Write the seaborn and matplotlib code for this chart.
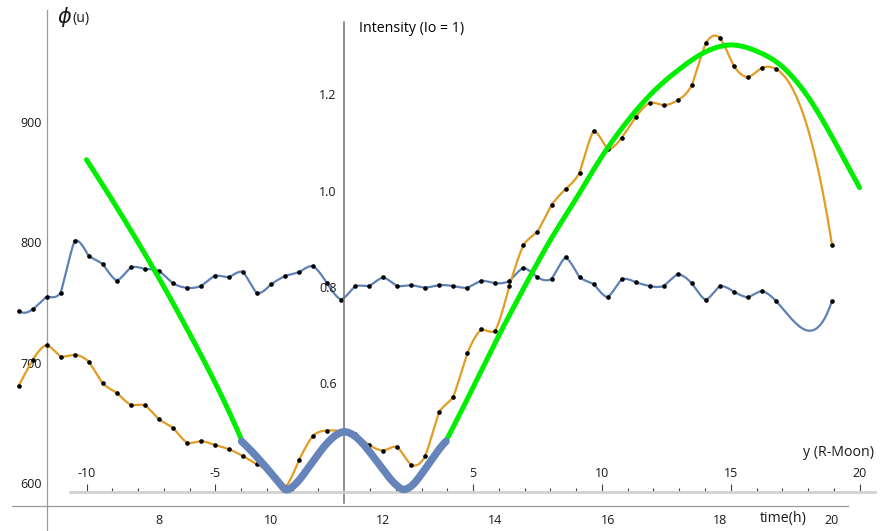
import numpy as np
import matplotlib
matplotlib.use("Agg")
import matplotlib.pyplot as plt
import seaborn as sns

# ---------------- data ----------------
# measured series, time (h) vs phi (u)
blue_t = [5.5, 5.75, 6.0, 6.25, 6.5, 6.75, 7.0, 7.25, 7.5, 7.75, 8.0, 8.25, 8.5, 8.75,
          9.0, 9.25, 9.5, 9.75, 10.0, 10.25, 10.5, 10.75, 11.0, 11.25, 11.5, 11.75,
          12.0, 12.25, 12.5, 12.75, 13.0, 13.25, 13.5, 13.75, 14.0, 14.25, 14.5, 14.75,
          15.0, 15.25, 15.5, 15.75, 16.0, 16.25, 16.5, 16.75, 17.0, 17.25, 17.5, 17.75,
          18.0, 18.25, 18.5, 18.75, 19.0, 20.0]
blue_phi = [743.2, 744.3, 754.8, 758.1, 801.4, 788.6, 782.0, 768.1, 779.3, 777.8, 776.4,
            766.0, 762.3, 763.7, 772.3, 770.9, 775.6, 757.6, 765.1, 772.0, 775.1, 780.3,
            766.0, 752.4, 763.7, 763.7, 770.9, 763.7, 764.5, 762.3, 764.5, 763.7, 762.3,
            768.1, 766.0, 767.9, 778.9, 770.9, 769.5, 787.6, 770.9, 765.4, 754.3, 769.3,
            766.8, 763.7, 763.7, 773.4, 766.0, 752.1, 763.7, 759.0, 754.3, 759.6, 751.3,
            751.3]

orange_t = [5.5, 5.75, 6.0, 6.25, 6.5, 6.75, 7.0, 7.25, 7.5, 7.75, 8.0, 8.25, 8.5, 8.75,
            9.0, 9.25, 9.5, 9.75, 10.0, 10.25, 10.5, 10.75, 11.0, 11.25, 11.5, 11.75,
            12.0, 12.25, 12.5, 12.75, 13.0, 13.25, 13.5, 13.75, 14.0, 14.25, 14.5, 14.75,
            15.0, 15.25, 15.5, 15.75, 16.0, 16.25, 16.5, 16.75, 17.0, 17.25, 17.5, 17.75,
            18.0, 18.25, 18.5, 18.75, 19.0, 20.0]
orange_phi = [680.6, 702.0, 714.7, 705.0, 706.6, 700.8, 682.8, 675.0, 664.8, 664.8, 652.9,
              646.0, 633.5, 634.9, 631.6, 628.0, 622.4, 615.4, 608.6, 596.4, 619.1, 639.3,
              643.5, 643.0, 640.5, 631.6, 626.8, 630.2, 615.0, 622.4, 659.3, 671.7, 707.8,
              727.7, 726.6, 763.7, 797.8, 808.8, 831.0, 844.3, 857.9, 892.8, 877.3, 887.0,
              904.0, 916.0, 913.9, 918.3, 930.5, 965.4, 970.1, 946.5, 937.2, 945.1, 944.1,
              797.8]

# model curves, y (R-Moon) vs intensity
green_left_y = [-10, -9, -8, -7, -6, -5, -3.98]
green_left_I = [1.064, 0.980, 0.892, 0.800, 0.702, 0.599, 0.481]
green_right_y = [3.95, 5, 6, 7, 8, 9, 10, 11, 12, 13, 14, 15, 16, 17, 18, 19, 20]
green_right_I = [0.479, 0.590, 0.698, 0.800, 0.897, 0.983, 1.071, 1.145, 1.206, 1.252,
                 1.288, 1.303, 1.290, 1.258, 1.195, 1.105, 1.006]
wave_y = [-3.98, -3.5, -3.0, -2.5, -2.3, -2.0, -1.5, -1.0, -0.5, 0.0, 0.5, 1.0, 1.5,
          2.0, 2.3, 2.5, 3.0, 3.5, 3.95]
wave_I = [0.478, 0.452, 0.422, 0.390, 0.378, 0.384, 0.415, 0.452, 0.483, 0.498, 0.485,
          0.455, 0.420, 0.388, 0.378, 0.381, 0.410, 0.448, 0.478]

phi_ticks = [600, 700, 800, 900]
time_ticks = [8, 10, 12, 14, 16, 18, 20]
int_ticks = [0.6, 0.8, 1.0, 1.2]
ymoon_ticks = [-10, -5, 5, 10, 15, 20]
ymoon_labels = ["-10", "-5", "5", "10", "15", "20"]

# ---------------- styling ----------------
C_BLUE = "#5E81B5"
C_ORANGE = "#E19C24"
C_GREEN = "#00EE00"
C_TXT = "#1a1a1a"
TICK_FS = 9
LAB_FS = 10.2

sns.set_theme(style="white")
plt.rcParams["font.family"] = ["Open Sans", "DejaVu Sans"]
plt.rcParams["axes.grid"] = False


def smooth(x, y, per=24):
    """Piecewise local cubic (4-point) curve through the points, as Mathematica draws it."""
    x = np.asarray(x, float)
    y = np.asarray(y, float)
    n = len(x)
    xs, ys = [], []
    for i in range(n - 1):
        j0 = min(max(i - 1, 0), n - 4)
        idx = list(range(j0, j0 + 4))
        xx = np.linspace(x[i], x[i + 1], per, endpoint=(i == n - 2))
        yy = np.zeros_like(xx)
        for a in idx:
            L = np.ones_like(xx)
            for b in idx:
                if b != a:
                    L *= (xx - x[b]) / (x[a] - x[b])
            yy += y[a] * L
        xs.append(xx)
        ys.append(yy)
    return np.concatenate(xs), np.concatenate(ys)


fig = plt.figure(figsize=(8.85, 5.31), dpi=100)
ax1 = fig.add_axes([0, 0, 1, 1])
ax2 = fig.add_axes([0, 0, 1, 1])
ax2.patch.set_alpha(0)
ax1.set_facecolor("white")

# ---- frame 1: time vs phi ----
ax1.set_xlim(5.1693, 20.9447)
ax1.set_ylim(560.1, 1001.4)

for t, v, c in [(blue_t, blue_phi, C_BLUE), (orange_t, orange_phi, C_ORANGE)]:
    sx, sy = smooth(t, v)
    sns.lineplot(x=sx, y=sy, ax=ax1, color=c, lw=1.6, sort=False, estimator=None, zorder=2)
for t, v in [(blue_t, blue_phi), (orange_t, orange_phi)]:
    sns.scatterplot(x=t, y=v, ax=ax1, color="black", s=11, linewidth=0, zorder=3)

for s in ["top", "right"]:
    ax1.spines[s].set_visible(False)
ax1.spines["left"].set_position(("data", 6.0))
ax1.spines["left"].set_bounds(560.1, 993)
ax1.spines["bottom"].set_position(("data", 580.9))
ax1.spines["bottom"].set_bounds(5.38, 20.29)
for s in ["left", "bottom"]:
    ax1.spines[s].set_color("#9a9a9a")
    ax1.spines[s].set_linewidth(0.9)

ax1.set_yticks(phi_ticks)
ax1.set_yticks(list(range(580, 961, 20)), minor=True)
ax1.set_xticks(time_ticks)
ax1.set_xticks([v / 2 for v in range(11, 41)], minor=True)
ax1.tick_params(axis="y", which="major", direction="in", length=3.8, width=0.8,
                color="#9a9a9a", pad=3.6, labelsize=TICK_FS, labelcolor=C_TXT)
ax1.tick_params(axis="y", which="minor", direction="in", length=2.2, width=0.8, color="#9a9a9a")
ax1.tick_params(axis="x", which="major", direction="in", length=4.5, width=0.8,
                color="#9a9a9a", pad=5.5, labelsize=TICK_FS, labelcolor=C_TXT)
ax1.tick_params(axis="x", which="minor", direction="in", length=2.6, width=0.8, color="#9a9a9a")
ax1.set_xlabel("")
ax1.set_ylabel("")

# ---- frame 2: y (R-Moon) vs intensity ----
ax2.set_xlim(-13.357, 20.986)
ax2.set_ylim(0.2914, 1.3965)

for yy, ii in [(green_left_y, green_left_I), (green_right_y, green_right_I)]:
    sx, sy = smooth(yy, ii)
    sns.lineplot(x=sx, y=sy, ax=ax2, color=C_GREEN, lw=3.6, sort=False, estimator=None,
                 zorder=3)
sx, sy = smooth(wave_y, wave_I)
sns.lineplot(x=sx, y=sy, ax=ax2, color="#6484BA", lw=5.4, sort=False, estimator=None,
             zorder=3)

for s in ["bottom", "right"]:
    ax2.spines[s].set_visible(False)
ax2.spines["left"].set_position(("data", 0.0))
ax2.spines["left"].set_bounds(0.35, 1.35)
ax2.spines["left"].set_color("#707070")
ax2.spines["left"].set_linewidth(1.1)
ax2.spines["top"].set_position(("data", 0.373))
ax2.spines["top"].set_bounds(-10.64, 20.6)
ax2.spines["top"].set_color("#d2d2d2")
ax2.spines["top"].set_linewidth(2.0)

ax2.xaxis.set_ticks_position("top")
ax2.set_xticks(ymoon_ticks)
ax2.set_xticklabels(ymoon_labels)
ax2.set_xticks([v for v in range(-10, 21) if v % 5 != 0], minor=True)
ax2.tick_params(axis="x", which="major", direction="out", length=5.8, width=0.8,
                color="#444444", pad=2.6, labelsize=TICK_FS, labelcolor=C_TXT,
                top=True, bottom=False, labeltop=True, labelbottom=False)
ax2.tick_params(axis="x", which="minor", direction="out", length=2.9, width=0.8,
                color="#444444", top=True, bottom=False)
ax2.set_yticks([0.4] + int_ticks)
ax2.set_yticklabels([""] + ["0.6", "0.8", "1.0", "1.2"])
ax2.set_yticks([0.35 + 0.05 * k for k in range(21)], minor=True)
ax2.tick_params(axis="y", which="major", direction="in", length=7, width=0.9,
                color="#707070", pad=5.5, labelsize=TICK_FS, labelcolor=C_TXT)
ax2.tick_params(axis="y", which="minor", direction="in", length=4.3, width=0.9,
                color="#707070")
ax2.set_xlabel("")
ax2.set_ylabel("")

# ---- axis titles ----
fig.text(0.0644, 0.968, r"$\phi$", fontsize=15, color=C_TXT, ha="left", va="center")
fig.text(0.0815, 0.966, "(u)", fontsize=LAB_FS, color=C_TXT, ha="left", va="center")
fig.text(0.4056, 0.9454, "Intensity (Io = 1)", fontsize=LAB_FS, color="black",
         ha="left", va="center")
fig.text(0.8847, 0.0226, "time(h)", fontsize=LAB_FS, color=C_TXT, ha="center", va="center")
fig.text(0.948, 0.1469, "y (R-Moon)", fontsize=LAB_FS, color=C_TXT, ha="center", va="center")

fig.savefig("out.png", dpi=100)
